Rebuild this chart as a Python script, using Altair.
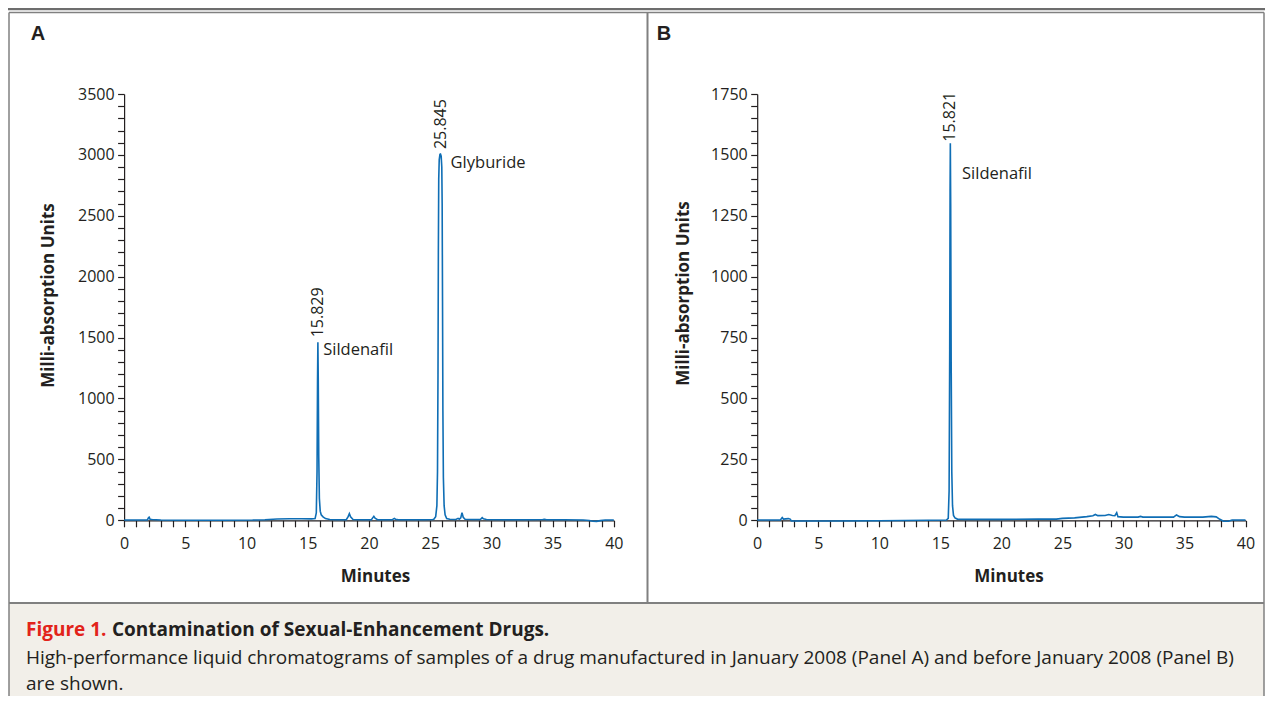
import altair as alt
import pandas as pd

# ---------------- data ----------------
# Panel A: chromatogram of the January 2008 sample
time_a = [0, 1.0, 1.9, 2.0, 2.05, 2.12, 2.3, 2.6, 3.0, 5.0, 8.0, 10.5, 11.5, 12.5, 13.5, 14.5,
          15.3, 15.6, 15.70, 15.76, 15.80, 15.829, 15.86, 15.90, 15.95, 16.02, 16.10, 16.25,
          16.45, 16.8, 17.5, 18.15, 18.3, 18.4, 18.5, 18.7, 19.5, 20.2, 20.32, 20.4, 20.5, 20.7,
          21.9, 22.0, 22.08, 22.18, 22.4, 23.5, 24.5, 25.2, 25.30, 25.45, 25.55, 25.60, 25.64,
          25.67, 25.70, 25.74, 25.80, 25.845, 25.90, 25.95, 25.98, 26.01, 26.04, 26.08, 26.14,
          26.22, 26.35, 26.6, 27.1, 27.28, 27.38, 27.5, 27.6, 27.7, 27.85, 28.5, 29.1, 29.25,
          29.35, 29.6, 31.0, 33.0, 34.2, 34.35, 34.5, 36.0, 37.5, 38.0, 38.3, 38.6, 38.9, 39.3, 40.0]
mau_a = [2, 2, 3, 22, 25, 8, 6, 4, 2, 1, 1, 2, 5, 11, 13, 13,
         12, 14, 60, 400, 1150, 1461, 1150, 520, 180, 75, 45, 28,
         14, 6, 4, 5, 30, 55, 28, 6, 4, 5, 22, 33, 18, 5,
         4, 12, 16, 8, 4, 4, 5, 7, 8, 30, 120, 400, 1200,
         2200, 2800, 2960, 3005, 3007, 2990, 2900, 2600, 1800, 900, 350, 120,
         45, 15, 8, 7, 16, 9, 20, 63, 25, 8, 6, 6, 22,
         12, 6, 5, 5, 6, 9, 5, 4, 3, -2, -8, -9, -3, 2, 2]

# Panel B: chromatogram of the pre-2008 sample
time_b = [0, 1.0, 1.9, 2.05, 2.15, 2.35, 2.55, 2.7, 2.8, 3.2, 6.0, 10.0, 12.0, 14.0, 15.5,
          15.65, 15.72, 15.77, 15.80, 15.821, 15.85, 15.89, 15.94, 16.00, 16.08, 16.2, 16.4,
          17.0, 20.0, 23.0, 24.5, 25.0, 26.0, 27.0, 27.5, 27.7, 27.9, 28.5, 28.8, 29.1, 29.3,
          29.45, 29.55, 30.0, 31.2, 31.4, 31.6, 33.0, 34.1, 34.35, 34.6, 35.0, 36.5, 37.2,
          37.6, 37.9, 38.2, 38.6, 38.9, 40.0]
mau_b = [1, 1, 1, 11, 5, 6, 7, 5, -3, -3, -3, -2, -1, 0, 1,
         8, 120, 700, 1350, 1548, 1300, 650, 200, 60, 20, 10, 5,
         4, 4, 5, 5, 8, 10, 15, 19, 24, 19, 20, 24, 20, 19,
         31, 15, 13, 13, 16, 13, 13, 13, 22, 15, 13, 13, 16,
         14, 4, -4, -4, 1, 1]

# Peak annotations
peak_time_a = [15.829, 25.845]
peak_height_a = [1461, 3007]
peak_label_a = ["15.829", "25.845"]
name_a = ["Sildenafil", "Glyburide"]
name_time_a = [16.26, 26.67]
name_height_a = [1398, 2935]

peak_time_b = [15.821]
peak_height_b = [1548]
peak_label_b = ["15.821"]
name_b = ["Sildenafil"]
name_time_b = [16.78]
name_height_b = [1423]

# Axis ticks (every tick drawn, labels on majors only)
minute_ticks = list(range(0, 41))
mau_ticks_a = list(range(0, 3501, 100))
mau_ticks_b = list(range(0, 1751, 50))

caption_label = "Figure 1."
caption_title = "Contamination of Sexual-Enhancement Drugs."
caption_line1 = ("High-performance liquid chromatograms of samples of a drug manufactured in "
                 "January 2008 (Panel A) and before January 2008 (Panel B)")
caption_line2 = "are shown."

# ---------------- styling ----------------
W, H = 1257, 688
RIGHT = W - 1
FONT = "Open Sans"
INK = "#231f20"
BLUE = "#0f6eb5"
FRAME = "#808080"
Y_ZERO, Y_TOP = 512.3, 86.0
one = pd.DataFrame({"k": [0]})


def panel(times, vals, pk_t, pk_v, pk_lab, nm, nm_t, nm_v, x_range, y_max, y_ticks,
          y_major, ytitle_x, ytitle_y, xtitle_x, num_dx):
    xs = alt.Scale(domain=[0, 40], range=x_range, nice=False, zero=False)
    ys = alt.Scale(domain=[0, y_max], range=[Y_ZERO, Y_TOP], nice=False, zero=False)
    xa = alt.Axis(values=minute_ticks, orient="bottom", offset=Y_ZERO - H,
                  labelExpr="datum.value % 5 == 0 ? datum.label : ''",
                  grid=False, tickSize=6.5, tickWidth=1.2, tickColor=INK,
                  domainColor=INK, domainWidth=1.2, labelFont=FONT, labelFontSize=16,
                  labelColor=INK, labelPadding=8.5, labelFlush=False, labelOverlap=False,
                  title="Minutes", titleFont=FONT, titleFontSize=17, titleFontWeight="bold",
                  titleColor=INK, titleX=xtitle_x, titleY=55.7, titleAlign="center",
                  titleBaseline="middle")
    ya = alt.Axis(values=y_ticks, orient="left", offset=-x_range[0], format="d",
                  labelExpr="datum.value %% %d == 0 ? datum.label : ''" % y_major,
                  grid=False, tickSize=6.5, tickWidth=1.2, tickColor=INK,
                  domainColor=INK, domainWidth=1.2, labelFont=FONT, labelFontSize=16,
                  labelColor=INK, labelPadding=3.5, labelFlush=False, labelOverlap=False,
                  title="Milli-absorption Units", titleFont=FONT, titleFontSize=17,
                  titleFontWeight="bold", titleColor=INK, titleAngle=270,
                  titleX=ytitle_x, titleY=ytitle_y, titleAlign="center",
                  titleBaseline="middle")
    line = alt.Chart(pd.DataFrame({"t": times, "v": vals})).mark_line(
        color=BLUE, strokeWidth=1.6).encode(
        x=alt.X("t:Q", scale=xs, axis=xa), y=alt.Y("v:Q", scale=ys, axis=ya))
    nums = alt.Chart(pd.DataFrame({"t": pk_t, "v": pk_v, "lab": pk_lab})).mark_text(
        angle=270, align="left", baseline="middle", dx=num_dx, font=FONT,
        fontSize=16, color=INK).encode(
        x=alt.X("t:Q", scale=xs, axis=xa), y=alt.Y("v:Q", scale=ys, axis=ya),
        text="lab:N")
    names = alt.Chart(pd.DataFrame({"t": nm_t, "v": nm_v, "lab": nm})).mark_text(
        align="left", baseline="middle", font=FONT, fontSize=16.5, color=INK).encode(
        x=alt.X("t:Q", scale=xs, axis=xa), y=alt.Y("v:Q", scale=ys, axis=ya),
        text="lab:N")
    return alt.layer(line, nums, names)


panel_a = panel(time_a, mau_a, peak_time_a, peak_height_a, peak_label_a, name_a,
                name_time_a, name_height_a, [116.1, 605.8], 3500, mau_ticks_a, 500,
                -76, 287, 367, 5)
panel_b = panel(time_b, mau_b, peak_time_b, peak_height_b, peak_label_b, name_b,
                name_time_b, name_height_b, [749.2, 1237.5], 1750, mau_ticks_b, 250,
                -74, 285, 1000.5, 1.5)


def hrule(y, x1, x2, color, width):
    return alt.Chart(one).mark_rule(color=color, strokeWidth=width).encode(
        x=alt.value(x1), x2=alt.value(x2), y=alt.value(y))


def vrule(x, y1, y2, color, width):
    return alt.Chart(one).mark_rule(color=color, strokeWidth=width).encode(
        x=alt.value(x), y=alt.value(y1), y2=alt.value(y2))


def label(txt, x, y, size, weight="normal", color=INK, font=FONT, align="left"):
    return alt.Chart(one).mark_text(text=txt, align=align, baseline="middle", font=font,
                                    fontSize=size, fontWeight=weight, color=color).encode(
        x=alt.value(x), y=alt.value(y))


caption_bg = alt.Chart(one).mark_rect(color="#f2efe9").encode(
    x=alt.value(1), x2=alt.value(RIGHT), y=alt.value(595), y2=alt.value(H))

decor = [
    caption_bg,
    hrule(1, 0, W, "#6d6d6d", 2.5),
    hrule(4.5, 1, RIGHT, FRAME, 1.5),
    vrule(1, 4.5, H, FRAME, 1.5),
    vrule(RIGHT, 4.5, H, FRAME, 1.5),
    vrule(639.5, 4.5, 595, FRAME, 2),
    hrule(595, 1, RIGHT, FRAME, 2),
    label("A", 30, 26, 20, "bold", font="Liberation Sans", align="center"),
    label("B", 656, 26, 20, "bold", font="Liberation Sans", align="center"),
    label(caption_label, 18, 622, 19, "bold", color="#e2231a"),
    label(caption_title, 104, 622, 19, "bold"),
    label(caption_line1, 18, 650, 19),
    label(caption_line2, 18, 676, 19),
]

chart = alt.layer(*decor, panel_a, panel_b).resolve_scale(
    x="independent", y="independent").resolve_axis(
    x="independent", y="independent").properties(
    width=W, height=H, padding=0, autosize=alt.AutoSizeParams(type="none"),
    background="white").configure_view(strokeWidth=0)

chart.save("out.html", embed_options={"renderer": "svg", "actions": False})
